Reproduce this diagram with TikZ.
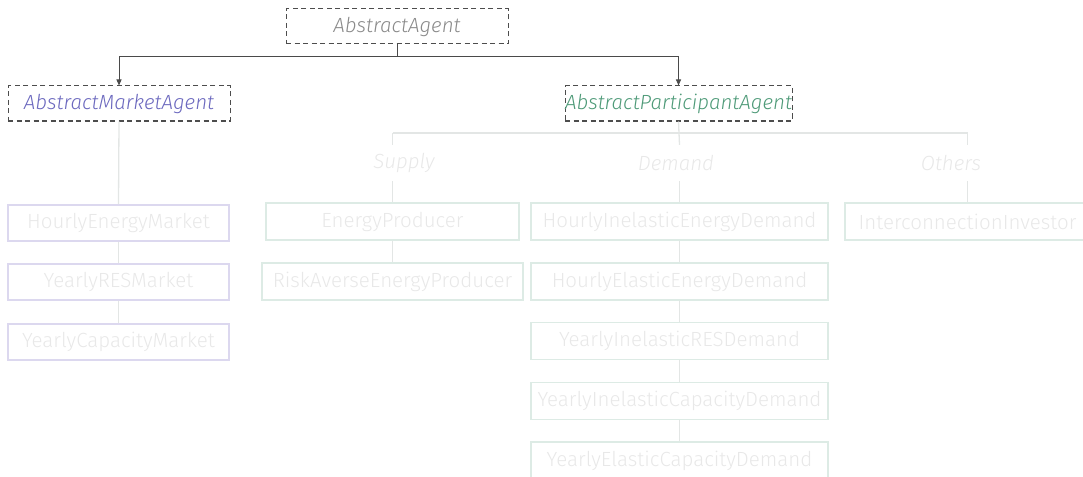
\documentclass[tikz,border=0pt]{standalone}
\usepackage{fontspec}
\setmainfont{Fira Sans}[UprightFont=* Light, ItalicFont=* Light Italic]
\usetikzlibrary{arrows.meta}

\definecolor{dashc}{HTML}{4D4D4D}
\definecolor{darkc}{HTML}{4A4A4A}
\definecolor{agentc}{HTML}{8A8A8A}
\definecolor{marketc}{HTML}{6B68BE}
\definecolor{partc}{HTML}{4E9A78}
\definecolor{mborder}{HTML}{DCD8EF}
\definecolor{pborder}{HTML}{DDEBE5}
\definecolor{ltext}{HTML}{E8E8E8}
\definecolor{linkc}{HTML}{E3E6E5}

\newcommand{\labelfont}{\fontsize{20.5}{24}\selectfont}

\begin{document}
\begin{tikzpicture}[x=1pt, y=-1pt,
  every node/.style={inner sep=0pt, font=\labelfont},
  absbox/.style={draw=dashc, dash pattern=on 5pt off 3.5pt, line width=1pt,
    minimum height=35pt, font=\labelfont\itshape},
  mbox/.style={draw=mborder, line width=1.6pt, text=ltext, minimum height=36pt},
  pbox/.style={draw=pborder, line width=1.6pt, text=ltext, minimum height=37pt},
  grp/.style={text=ltext, minimum height=36pt, font=\labelfont\itshape},
  link/.style={draw=linkc, line width=1.3pt},
  inh/.style={draw=darkc, line width=1pt, -{Triangle[length=6pt,width=5pt]}}]
\useasboundingbox (0,0) rectangle (1083,476);
\clip (0,0) rectangle (1083,476);

% abstract classes
\node[absbox, text=agentc, minimum width=222pt] (agent) at (397,26.5) {AbstractAgent};
\node[absbox, text=marketc, minimum width=222pt] (market) at (119,103.5) {AbstractMarketAgent};
\node[absbox, text=partc, minimum width=227pt] (part) at (678.5,103.5) {AbstractParticipantAgent};

% inheritance arrows
\coordinate (abar) at (0,57);
\draw[darkc, line width=1pt] (agent.south) -- (agent.south |- abar);
\draw[inh] (market.north |- abar) -- (part.north |- abar) -- (part.north);
\draw[inh] (part.north |- abar) -- (market.north |- abar) -- (market.north);

% market agents
\node[mbox, minimum width=221pt] (hem) at (118.5,223) {HourlyEnergyMarket};
\node[mbox, minimum width=221pt] (yrm) at (118.5,282) {YearlyRESMarket};
\node[mbox, minimum width=221pt] (ycm) at (118.5,342) {YearlyCapacityMarket};
\draw[link] (market.south) -- (hem.north);
\draw[link] (hem.south) -- (yrm.north);
\draw[link] (yrm.south) -- (ycm.north);

% participant groups
\node[grp] (supply) at (404,163) {Supply};
\node[grp] (demand) at (676,163) {Demand};
\node[grp] (others) at (951,163) {Others};

% supply side
\node[pbox, minimum width=253pt] (ep) at (392.5,221.5) {EnergyProducer};
\node[pbox, minimum width=261pt] (rep) at (392.5,281.5) {RiskAverseEnergyProducer};

% demand side
\node[pbox, minimum width=297pt] (hied) at (679.5,221.5) {HourlyInelasticEnergyDemand};
\node[pbox, minimum width=297pt] (heed) at (679.5,281.5) {HourlyElasticEnergyDemand};
\node[pbox, minimum width=297pt] (yird) at (679.5,341) {YearlyInelasticRESDemand};
\node[pbox, minimum width=297pt] (yicd) at (679.5,401) {YearlyInelasticCapacityDemand};
\node[pbox, minimum width=297pt] (yecd) at (679.5,460.5) {YearlyElasticCapacityDemand};

% others
\node[pbox, minimum width=245pt] (ii) at (967.5,221.5) {InterconnectionInvestor};

% participant tree
\coordinate (pbar) at (0,133);
\draw[link] (part.south) -- (hied.north |- demand.north);
\draw[link] (ep.north |- pbar) -- (ii.north |- pbar);
\draw[link] (ep.north |- pbar) -- (ep.north |- supply.north);
\draw[link] (ii.north |- pbar) -- (ii.north |- others.north);
\draw[link] (ep.north |- supply.south) -- (ep.north);
\draw[link] (hied.north |- demand.south) -- (hied.north);
\draw[link] (ii.north |- others.south) -- (ii.north);
\draw[link] (ep.south) -- (rep.north);
\draw[link] (hied.south) -- (heed.north);
\draw[link] (heed.south) -- (yird.north);
\draw[link] (yird.south) -- (yicd.north);
\draw[link] (yicd.south) -- (yecd.north);
\end{tikzpicture}
\end{document}
